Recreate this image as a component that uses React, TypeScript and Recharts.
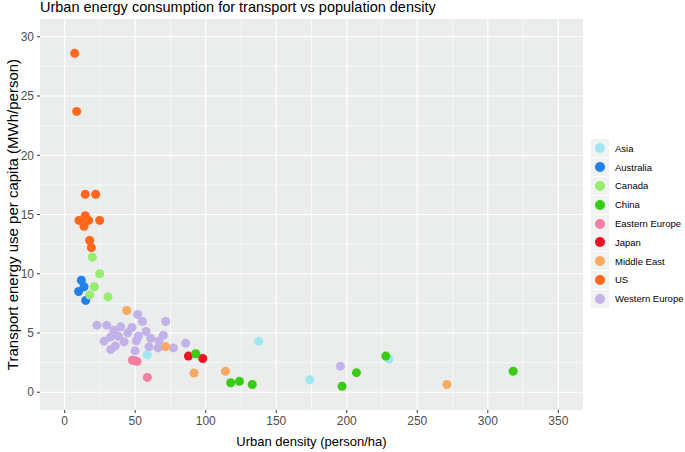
import React from "react";
import { CartesianGrid, Scatter, ScatterChart, XAxis, YAxis, ZAxis } from "recharts";

type Pt = { density: number; energy: number };
const pts = (rows: number[][]): Pt[] => rows.map(([density, energy]) => ({ density, energy }));

// urban density (person/ha), transport energy per capita (MWh/person)
const asia = pts([[58.6, 3.15], [137.6, 4.3], [173.8, 1.05], [230, 2.8]]);
const australia = pts([[11.8, 9.45], [13.7, 8.9], [9.9, 8.5], [14.9, 7.75]]);
const canada = pts([[19.6, 11.4], [24.8, 10.0], [21, 8.9], [17.7, 8.2], [30.7, 8.05]]);
const china = pts([[92.9, 3.25], [117.7, 0.8], [123.9, 0.92], [133, 0.65], [196.7, 0.5], [206.9, 1.65], [227.7, 3.05], [318, 1.77]]);
const easternEurope = pts([[48, 2.7], [49.8, 2.65], [51.3, 2.6], [58.6, 1.25]]);
const japan = pts([[87.7, 3.05], [97.9, 2.85]]);
const middleEast = pts([[44, 6.9], [71.6, 3.85], [91.7, 1.62], [114, 1.77], [271, 0.65]]);
const us = pts([
  [7.1, 28.6], [8.5, 23.7], [14.6, 16.7], [22, 16.7], [14.6, 14.9], [10.1, 14.5],
  [17, 14.5], [13.7, 14.0], [14.1, 14.5], [24.8, 14.5], [17.7, 12.8], [18.9, 12.2],
]);
const westernEurope = pts([
  [51.8, 6.56], [55.1, 5.97], [71.6, 5.97], [22.9, 5.66], [29.8, 5.66], [39.7, 5.52],
  [47.7, 5.46], [34.8, 5.24], [44.7, 5.01], [57.7, 5.12], [38.1, 4.73], [32.6, 4.67],
  [52.3, 4.73], [70, 4.81], [61, 4.56], [66.9, 4.33], [27.9, 4.31], [42.1, 4.25],
  [50.8, 4.33], [35.9, 3.91], [32.6, 3.6], [59.8, 3.83], [66.2, 3.74], [77.1, 3.74],
  [49.9, 3.49], [85.8, 4.14], [195.5, 2.2],
]);

const regions = [
  { name: "Asia", color: "#A0E6F0", data: asia },
  { name: "Australia", color: "#2281E8", data: australia },
  { name: "Canada", color: "#96EE6C", data: canada },
  { name: "China", color: "#38CC14", data: china },
  { name: "Eastern Europe", color: "#F27FA0", data: easternEurope },
  { name: "Japan", color: "#EE1122", data: japan },
  { name: "Middle East", color: "#F8AA60", data: middleEast },
  { name: "US", color: "#FF671C", data: us },
  { name: "Western Europe", color: "#C3B2EA", data: westernEurope },
];
// draw order (later on top)
const drawOrder = ["Western Europe", "Asia", "Australia", "Canada", "Eastern Europe", "Japan", "China", "Middle East", "US"];

const xTicks = [0, 50, 100, 150, 200, 250, 300, 350];
const yTicks = [0, 5, 10, 15, 20, 25, 30];
const xMinor = [25, 75, 125, 175, 225, 275, 325];
const yMinor = [2.5, 7.5, 12.5, 17.5, 22.5, 27.5];

const font = "'Liberation Sans', Arial, sans-serif";
const tickStyle = { fill: "#4D4D4D", fontSize: 12, fontFamily: font };

export default function App() {
  return (
    <div style={{ position: "absolute", left: 0, top: 0, width: 685, height: 452, background: "#fff", fontFamily: font }}>
      <ScatterChart width={685} height={452} margin={{ top: 19, right: 102, bottom: 0, left: 0 }}>
        <CartesianGrid fill="#EAEDEC" stroke="#fff" strokeWidth={0.6} horizontalValues={yMinor} verticalValues={xMinor} />
        <CartesianGrid stroke="#fff" strokeWidth={1.2} horizontalValues={yTicks} verticalValues={xTicks} />
        <XAxis
          type="number"
          dataKey="density"
          domain={[-17.5, 367.5]}
          ticks={xTicks}
          allowDataOverflow
          height={42}
          axisLine={false}
          tickSize={3}
          tickMargin={3}
          tickLine={{ stroke: "#333" }}
          tick={tickStyle}
          label={{ value: "Urban density (person/ha)", position: "insideBottom", offset: 6, style: { fill: "#000", fontSize: 13, fontFamily: font } }}
        />
        <YAxis
          type="number"
          dataKey="energy"
          domain={[-1.5, 31.5]}
          ticks={yTicks}
          allowDataOverflow
          width={40}
          axisLine={false}
          tickSize={3}
          tickMargin={3}
          tickLine={{ stroke: "#333" }}
          tick={tickStyle}
          label={{
            value: "Transport energy use per capita (MWh/person)",
            angle: -90,
            position: "insideLeft",
            offset: 13,
            style: { fill: "#000", fontSize: 15, fontFamily: font, textAnchor: "middle" },
          }}
        />
        <ZAxis range={[72, 72]} />
        {drawOrder.map((n) => {
          const r = regions.find((g) => g.name === n)!;
          return <Scatter key={n} name={n} data={r.data} fill={r.color} isAnimationActive={false} />;
        })}
      </ScatterChart>

      <svg width={685} height={20} style={{ position: "absolute", left: 0, top: 0 }}>
        <text x={40} y={11.5} fontSize={14.5} fontFamily={font} fill="#000">
          Urban energy consumption for transport vs population density
        </text>
      </svg>

      <div style={{ position: "absolute", left: 591, top: 139 }}>
        {regions.map((r) => (
          <div key={r.name} style={{ display: "flex", alignItems: "center", height: 18.8 }}>
            <div style={{ width: 18, height: 18, background: "#F1F2F2", display: "flex", alignItems: "center", justifyContent: "center" }}>
              <div style={{ width: 10, height: 10, borderRadius: 5, background: r.color }} />
            </div>
            <span style={{ marginLeft: 6, fontSize: 9.5, color: "#000", whiteSpace: "nowrap" }}>{r.name}</span>
          </div>
        ))}
      </div>
    </div>
  );
}
